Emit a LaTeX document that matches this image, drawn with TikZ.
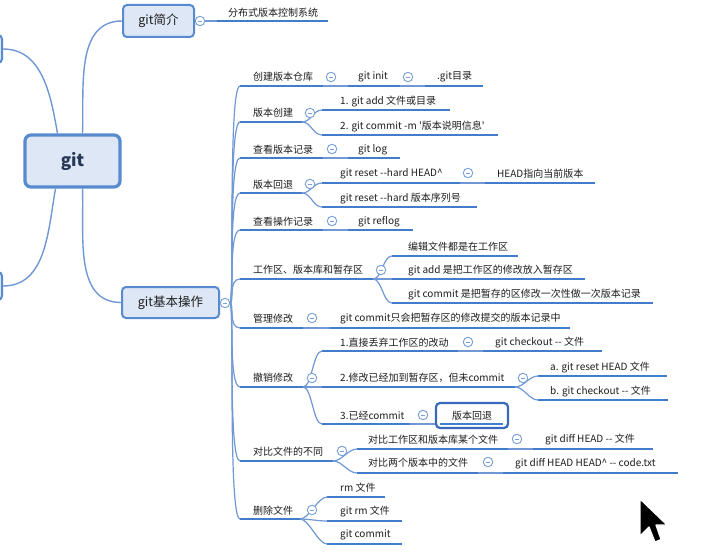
\documentclass[tikz,border=0pt]{standalone}
\usepackage{fontspec}
\newfontfamily\cjk{Noto Sans CJK SC}
\definecolor{ulcol}{RGB}{66,125,204}
\definecolor{conncol}{RGB}{112,152,212}
\definecolor{btncol}{RGB}{120,160,215}
\definecolor{boxdraw}{RGB}{88,138,208}
\definecolor{boxfill}{RGB}{221,231,245}
\definecolor{txtcol}{RGB}{30,30,30}
\definecolor{gitcol}{RGB}{40,55,85}
\definecolor{hlbox}{RGB}{55,105,190}
\newcommand\mmtopic[7]{\node[txt] (#1) at (#2,-#3) {#4};\draw[uline] (#5,-#7) coordinate (#1-s) -- (#6,-#7) coordinate (#1-e);}
\newcommand\mmbtn[3]{\node[cbtn] (#1) at (#2,-#3) {};}
\newcommand\mmlink[2]{\draw[conn] (#1-e) to[out=0,in=180,out distance=9pt,in distance=9pt] (#2-s);}
\newcommand\mmtrunk[1]{\draw[conn] (cB.east) to[out=0,in=180,out distance=4pt,in distance=12pt] (#1-s);}
\begin{document}
\begin{tikzpicture}[x=1pt,y=1pt,
  txt/.style={anchor=west,inner sep=0pt,text=txtcol,font=\cjk\fontsize{10}{12}\selectfont},
  uline/.style={draw=ulcol,line width=2.2pt},
  conn/.style={draw=conncol,line width=1.2pt},
  bigconn/.style={draw=conncol,line width=1.4pt},
  cbtn/.style={circle,draw=btncol,fill=white,line width=0.9pt,minimum size=9.5pt,inner sep=0pt,
    path picture={\draw[btncol,line width=0.8pt] ([xshift=-2.2pt]path picture bounding box.center) -- ([xshift=2.2pt]path picture bounding box.center);}},
  mainbox/.style={draw=boxdraw,fill=boxfill,rounded corners=4pt,line width=2pt,inner sep=0pt,text=txtcol,font=\cjk\fontsize{12.5}{14}\selectfont},
  rootbox/.style={draw=boxdraw,fill=boxfill,rounded corners=6pt,line width=3.2pt,inner sep=0pt,text=gitcol,font=\cjk\bfseries\fontsize{17}{20}\selectfont},
  hlstyle/.style={draw=hlbox,fill=white,rounded corners=4pt,line width=2.2pt,inner sep=0pt,text=txtcol,font=\cjk\fontsize{10}{12}\selectfont}
]
\useasboundingbox (0,0) rectangle (706,-553);
\fill[white] (0,0) rectangle (706,-553);
\begin{scope}
\clip (0,0) rectangle (706,-553);
\node[mainbox,minimum width=52pt,minimum height=28pt] (L1) at (-24,-49) {};
\node[mainbox,minimum width=52pt,minimum height=28pt] (L2) at (-24,-286) {};
\end{scope}
% main boxes
\node[rootbox,minimum width=95pt,minimum height=52pt] (git) at (72.5,-161) {git};
\node[mainbox,minimum width=71pt,minimum height=32pt] (intro) at (158.5,-21) {git简介};
\node[mainbox,minimum width=97pt,minimum height=31pt] (basic) at (170.5,-302.5) {git基本操作};
\draw[bigconn] ([xshift=-15pt]git.north) to[out=100,in=0] (L1.east);
\draw[bigconn] ([xshift=10pt]git.north) to[out=88,in=180] (intro.west);
\draw[bigconn] ([xshift=-17pt]git.south) to[out=-100,in=0] (L2.east);
\draw[bigconn] ([xshift=10pt]git.south) to[out=-88,in=180] (basic.west);
% collapse buttons of main boxes
\mmbtn{c0}{200}{21}
\mmbtn{cB}{225}{303}
\draw[conn] (intro.east) -- (c0.west);
\draw[conn] (basic.east) -- (cB.west);
% git intro child
\mmtopic{i1}{228}{13}{分布式版本控制系统}{217}{328}{21}
\draw[conn] (c0.east) -- (i1-s);
% level 2 topics
\mmtopic{A1}{253}{77}{创建版本仓库}{240}{323}{86}
\mmtopic{A1a}{358}{77}{git init}{348}{400}{86}
\mmtopic{A1b}{437}{77}{.git目录}{425}{483}{86}
\mmtopic{A2}{253}{113}{版本创建}{240}{302}{122}
\mmtopic{A2a}{340}{102}{1. git add 文件或目录}{322}{450}{110}
\mmtopic{A2b}{340}{127}{2. git commit -m '版本说明信息'}{322}{498}{135}
\mmtopic{A3}{253}{150}{查看版本记录}{240}{323}{158}
\mmtopic{A3a}{358}{150}{git log}{348}{400}{158}
\mmtopic{A4}{253}{185}{版本回退}{240}{302}{193}
\mmtopic{A4a}{340}{174}{git reset --hard HEAD\textasciicircum}{322}{460}{183}
\mmtopic{A4a1}{497}{174}{HEAD指向当前版本}{485}{595}{183}
\mmtopic{A4b}{340}{199}{git reset --hard 版本序列号}{322}{477}{207}
\mmtopic{A5}{253}{222}{查看操作记录}{240}{323}{230}
\mmtopic{A5a}{358}{222}{git reflog}{348}{413}{230}
\mmtopic{A6}{253}{270}{工作区、版本库和暂存区}{240}{373}{279}
\mmtopic{A6a}{408}{247}{编辑文件都是在工作区}{392}{518}{256}
\mmtopic{A6b}{408}{271}{git add 是把工作区的修改放入暂存区}{392}{585}{279}
\mmtopic{A6c}{408}{295}{git commit 是把暂存的区修改一次性做一次版本记录}{392}{653}{303}
\mmtopic{A7}{253}{319}{管理修改}{240}{303}{328}
\mmtopic{A7a}{340}{319}{git commit只会把暂存区的修改提交的版本记录中}{330}{570}{328}
\mmtopic{A8}{253}{378}{撤销修改}{240}{303}{387}
\mmtopic{A8a}{340}{343}{1.直接丢弃工作区的改动}{322}{458}{351}
\mmtopic{A8a1}{495}{343}{git checkout -- 文件}{483}{602}{351}
\mmtopic{A8b}{340}{378}{2.修改已经加到暂存区，但未commit}{322}{515}{387}
\mmtopic{A8b1}{550}{368}{a. git reset HEAD 文件}{538}{667}{376}
\mmtopic{A8b2}{550}{392}{b. git checkout -- 文件}{538}{668}{400}
\mmtopic{A8c}{340}{416}{3.已经commit}{322}{410}{424}
\mmtopic{A9}{253}{452}{对比文件的不同}{240}{333}{461}
\mmtopic{A9a}{368}{440}{对比工作区和版本库某个文件}{357}{508}{449}
\mmtopic{A9a1}{545}{440}{git diff HEAD -- 文件}{533}{653}{449}
\mmtopic{A9b}{368}{463}{对比两个版本中的文件}{357}{478}{473}
\mmtopic{A9b1}{515}{464}{git diff HEAD HEAD\textasciicircum\ -- code.txt}{503}{678}{473}
\mmtopic{A10}{253}{511}{删除文件}{240}{300}{519}
\mmtopic{A10a}{340}{488}{rm 文件}{327}{385}{497}
\mmtopic{A10b}{340}{512}{git rm 文件}{327}{402}{521}
\mmtopic{A10c}{340}{535}{git commit}{327}{402}{544}
% highlighted box
\node[hlstyle,minimum width=72pt,minimum height=25pt] (A8c1) at (472,-415.5) {版本回退};
\draw[draw=ulcol,line width=1.6pt] ([xshift=5pt]A8c1.west |- 0,-424) -- ([xshift=-6pt]A8c1.east |- 0,-424);
% trunk
\mmtrunk{A1}\mmtrunk{A2}\mmtrunk{A3}\mmtrunk{A4}\mmtrunk{A5}
\mmtrunk{A6}\mmtrunk{A7}\mmtrunk{A8}\mmtrunk{A9}\mmtrunk{A10}
% links
\mmlink{A1}{A1a}\mmlink{A1a}{A1b}
\mmlink{A2}{A2a}\mmlink{A2}{A2b}
\mmlink{A3}{A3a}
\mmlink{A4}{A4a}\mmlink{A4}{A4b}\mmlink{A4a}{A4a1}
\mmlink{A5}{A5a}
\mmlink{A6}{A6a}\mmlink{A6}{A6b}\mmlink{A6}{A6c}
\mmlink{A7}{A7a}
\mmlink{A8}{A8a}\mmlink{A8}{A8b}\mmlink{A8}{A8c}
\mmlink{A8a}{A8a1}\mmlink{A8b}{A8b1}\mmlink{A8b}{A8b2}
\draw[conn] (A8c-e) -- (A8c1.west |- A8c-e);
\mmlink{A9}{A9a}\mmlink{A9}{A9b}\mmlink{A9a}{A9a1}\mmlink{A9b}{A9b1}
\mmlink{A10}{A10a}\mmlink{A10}{A10b}\mmlink{A10}{A10c}
% collapse buttons
\mmbtn{bA1}{331}{77}\mmbtn{bA1a}{408}{77}
\mmbtn{bA2}{310}{113}
\mmbtn{bA3}{332}{149}
\mmbtn{bA4}{310}{184}\mmbtn{bA4a}{468}{173}
\mmbtn{bA5}{332}{221}
\mmbtn{bA6}{381}{270}
\mmbtn{bA7}{312}{318}
\mmbtn{bA8}{312}{378}\mmbtn{bA8a}{468}{342}\mmbtn{bA8b}{523}{378}\mmbtn{bA8c}{423}{415}
\mmbtn{bA9}{342}{451}\mmbtn{bA9a}{517}{439}\mmbtn{bA9b}{488}{462}
\mmbtn{bA10}{312}{510}
% mouse pointer
\filldraw[fill=black,draw=white,line width=1.2pt,line join=round]
  (640,-499) -- (640,-536) -- (649,-527) -- (655,-542) -- (661,-539.5) -- (656,-525) -- (667,-525) -- cycle;
\end{tikzpicture}
\end{document}
